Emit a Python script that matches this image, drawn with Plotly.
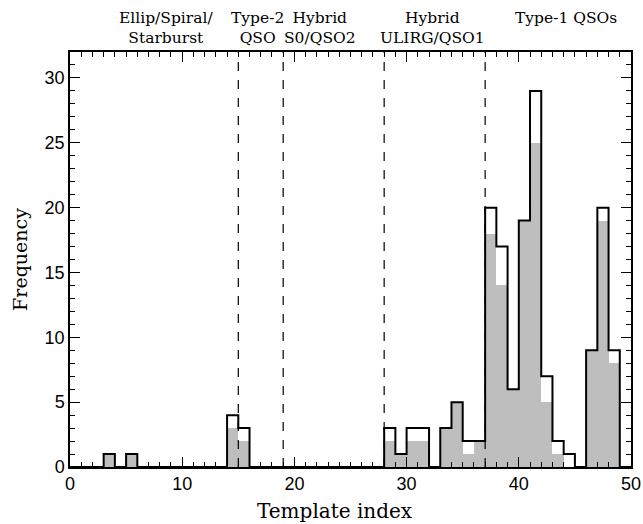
import plotly.graph_objects as go

# Histogram counts per template index bin [i, i+1)
bins = list(range(0, 50))
total = [0]*50
subset = [0]*50
total_vals = {3: 1, 5: 1, 14: 4, 15: 3, 28: 3, 29: 1, 30: 3, 31: 3, 33: 3, 34: 5,
              35: 2, 36: 2, 37: 20, 38: 17, 39: 6, 40: 19, 41: 29, 42: 7, 43: 2,
              44: 1, 46: 9, 47: 20, 48: 9}
subset_vals = {3: 1, 5: 1, 14: 3, 15: 2, 28: 2, 29: 1, 30: 2, 31: 2, 33: 3, 34: 5,
               35: 1, 36: 2, 37: 18, 38: 14, 39: 6, 40: 19, 41: 25, 42: 5, 43: 1,
               44: 0, 46: 9, 47: 19, 48: 8}
for k, v in total_vals.items():
    total[k] = v
for k, v in subset_vals.items():
    subset[k] = v

boundaries = [15, 19, 28, 37]
group_labels = ["Ellip/Spiral/<br>Starburst", "Type-2<br>QSO", "Hybrid<br>S0/QSO2",
                "Hybrid<br>ULIRG/QSO1", "Type-1 QSOs<br> "]
group_x = [8.6, 16.7, 22.3, 32.3, 44.2]

fig = go.Figure()

fig.add_trace(go.Bar(
    x=[b + 0.5 for b in bins], y=subset, width=1.0,
    marker=dict(color="#bebebe", line=dict(width=0)),
    showlegend=False, hoverinfo="skip"))

edges = list(range(0, 51))
step_y = total + [total[-1]]
fig.add_trace(go.Scatter(
    x=edges, y=step_y, mode="lines", line=dict(color="black", width=2, shape="hv"),
    showlegend=False, hoverinfo="skip"))

for b in boundaries:
    fig.add_shape(type="line", x0=b, x1=b, xref="x", y0=0, y1=1, yref="paper",
                  line=dict(color="black", width=1.2, dash="dash"))

for lab, gx in zip(group_labels, group_x):
    fig.add_annotation(x=gx, xref="x", y=1, yref="paper", yanchor="bottom",
                       yshift=3, text=lab, showarrow=False,
                       font=dict(family="DejaVu Serif", size=15.5, color="black"))

# x-axis title (placed as in the reference)
fig.add_annotation(x=0.473, xref="paper", y=-0.105, yref="paper", yanchor="middle",
                   text="Template index", showarrow=False,
                   font=dict(family="DejaVu Serif", size=20, color="black"))

fig.update_layout(
    width=643, height=524,
    margin=dict(l=69.5, r=12.3, t=52.3, b=56.5),
    paper_bgcolor="white", plot_bgcolor="white",
    bargap=0,
    font=dict(family="Liberation Sans", color="black"),
    xaxis=dict(range=[0, 50], dtick=10, tick0=0, ticks="inside", ticklen=10,
               tickwidth=1.2, tickcolor="black", showline=True, linecolor="black",
               linewidth=1.5, mirror="ticks", showgrid=False, zeroline=False,
               automargin=False,
               tickfont=dict(size=18, family="Liberation Sans"),
               minor=dict(dtick=1, ticks="inside", ticklen=5, tickcolor="black", tickwidth=1)),
    yaxis=dict(range=[0, 32], dtick=5, tick0=0, ticks="inside", ticklen=10,
               tickwidth=1.2, tickcolor="black", showline=True, linecolor="black",
               linewidth=1.5, mirror="ticks", showgrid=False, zeroline=False,
               automargin=False,
               tickfont=dict(size=18, family="Liberation Sans"),
               minor=dict(dtick=1, ticks="inside", ticklen=5, tickcolor="black", tickwidth=1),
               title=dict(text="Frequency", standoff=12,
                          font=dict(family="DejaVu Serif", size=19))),
)

fig.write_html("out.html", config={"displayModeBar": False},
               post_script="document.body.style.margin='0px';")
